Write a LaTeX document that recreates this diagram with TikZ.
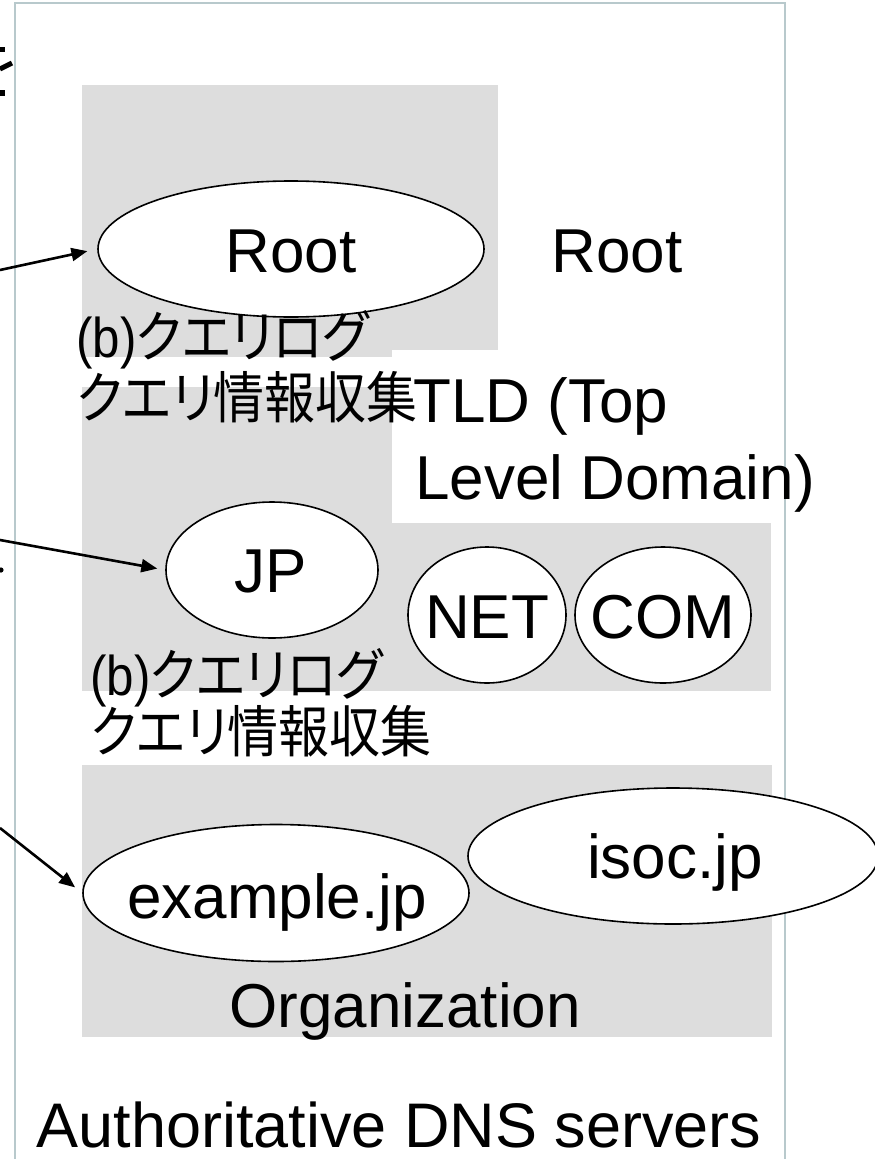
\documentclass[tikz,border=0pt]{standalone}
\usepackage{fontspec}
\setmainfont{Liberation Sans}
\newfontfamily\jpfont[RawFeature=+palt, FakeStretch=0.91]{Noto Sans CJK JP}
\newfontfamily\notelat[FakeStretch=0.88]{Liberation Sans}
\usetikzlibrary{shapes.geometric,arrows.meta}
\definecolor{zonegray}{HTML}{DDDDDD}
\definecolor{framecol}{HTML}{B8C9CC}
\tikzset{
  srv/.style={ellipse, draw=black, fill=white, line width=1.6pt, inner sep=0pt},
  big/.style={font=\fontsize{62}{70}\selectfont, inner sep=0pt},
  note/.style={font=\fontsize{56}{62}\selectfont, inner sep=0pt, anchor=base west},
  arr/.style={-{Triangle[length=16pt,width=13pt]}, line width=2.6pt},
}
\begin{document}
\begin{tikzpicture}[x=1pt,y=-1pt]
\useasboundingbox (0,0) rectangle (875,1159);

% zone backgrounds
\fill[zonegray] (82,85) rectangle (498,357);
\fill[zonegray] (82,387) rectangle (771,691);
\fill[zonegray] (82,765) rectangle (772,1037);
% white panel behind the TLD caption
\fill[white] (392,350) rectangle (800,523);

% outer frame of the server column
\draw[framecol, line width=2pt] (15,1165) -- (15,3) -- (785,3) -- (785,1165);

% fragments of text cut off at the left edge
\fill[black] (0,47) rectangle (5,52);
\draw[black, line width=5pt] (0,69) -- (12,63);
\fill[black] (0,90) rectangle (5,96);
\fill[black] (1,570) circle (2.6pt);

% servers
\node[srv, minimum width=386pt, minimum height=136pt] (root) at (291,249) {};
\node[srv, minimum width=212pt, minimum height=136pt] (jp) at (272,570) {};
\node[srv, minimum width=158pt, minimum height=136pt] (net) at (487,615) {};
\node[srv, minimum width=176pt, minimum height=136pt] (com) at (663,615) {};
\node[srv, minimum width=386pt, minimum height=137pt] (ex) at (276,893) {};
\node[srv, minimum width=410pt, minimum height=136pt] (isoc) at (673,856) {};

% server names
\node[big, anchor=base] (rootT) at (291,272) {Root};
\node[big, anchor=base] (jpT) at (271,592) {JP};
\node[big, anchor=base] (netT) at (487,638) {NET};
\node[big, anchor=base] (comT) at (663,638) {COM};
\node[big, anchor=base] (exT) at (277,918) {example.jp};
\node[big, anchor=base] (isocT) at (675,878) {isoc.jp};

% level captions
\node[big, anchor=base] (rootL) at (617,272) {Root};
\node[big, anchor=base west] (tldA) at (413,422) {TLD (Top};
\node[big, anchor=base west] (tldB) at (415,499) {Level Domain)};
\node[big, anchor=base] (orgL) at (405,1027) {Organization};
\node[big, anchor=base, font=\fontsize{63}{70}\selectfont] (authL) at (399,1147) {Authoritative DNS servers};

% query log notes
\node[note] (logA1) at (76,357) {\notelat(b)\jpfont クエリログ};
\node[note] (logA2) at (77,418) {\jpfont クエリ情報収集};
\node[note] (logB1) at (90,695) {\notelat(b)\jpfont クエリログ};
\node[note] (logB2) at (91,752) {\jpfont クエリ情報収集};

% incoming queries
\coordinate (qRoot) at (0,270);
\coordinate (qJP) at (0,540);
\coordinate (qEx) at (0,828);
\draw[arr, shorten >=10pt] (qRoot) -- (root.west);
\draw[arr, shorten >=8pt] (qJP) -- (jp.west);
\draw[arr, shorten >=9pt] (qEx) -- (ex.west);
\end{tikzpicture}
\end{document}
